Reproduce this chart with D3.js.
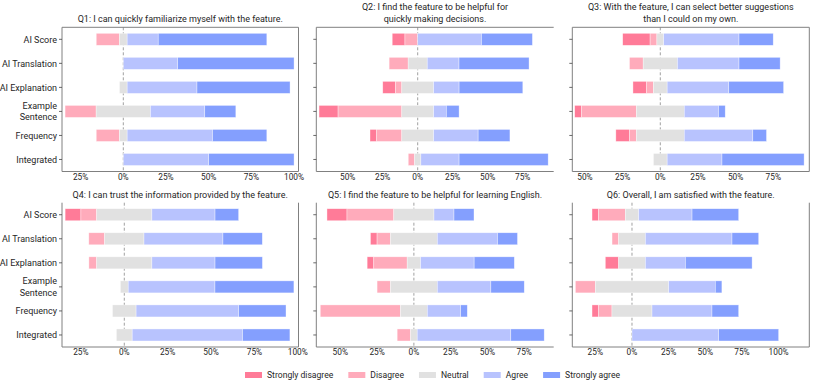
<!DOCTYPE html>
<html>
<head>
<meta charset="utf-8">
<script src="https://cdn.jsdelivr.net/npm/d3@7"></script>
<style>
  body { margin: 0; background: #fff; }
  svg { display: block; font-family: Roboto, "Liberation Sans", sans-serif; }
</style>
</head>
<body>
<svg id="chart" width="813" height="383"></svg>
<script>
// likert levels and their colours
const levels = ["Strongly disagree", "Disagree", "Neutral", "Agree", "Strongly agree"];
const levelColors = ["#ff7b98", "#ffabbb", "#e1e1e1", "#b8c3fe", "#849ffe"];

const categories = ["AI Score", "AI Translation", "AI Explanation", "Example Sentence", "Frequency", "Integrated"];

const titles = [
    ["Q1: I can quickly familiarize myself with the feature."],
    ["Q2: I find the feature to be helpful for", "quickly making decisions."],
    ["Q3: With the feature, I can select better suggestions", "than I could on my own."],
    ["Q4: I can trust the information provided by the feature."],
    ["Q5: I find the feature to be helpful for learning English."],
    ["Q6: Overall, I am satisfied with the feature."]
];

// percent of answers per category: [SD, D, N, A, SA]
const q1 = [
    [0, 13.6, 4.5, 18.2, 63.6],
    [0, 0, 0, 31.8, 68.2],
    [0, 0, 4.5, 40.9, 54.5],
    [0, 18.2, 31.8, 31.8, 18.2],
    [0, 13.6, 4.5, 50.0, 31.8],
    [0, 0, 0, 50.0, 50.0]
];
const q2 = [
    [9.1, 9.1, 0, 45.5, 36.4],
    [0, 13.6, 13.6, 22.7, 50.0],
    [9.1, 4.5, 22.7, 18.2, 45.5],
    [13.6, 45.5, 22.7, 9.1, 9.1],
    [4.5, 18.2, 22.7, 31.8, 22.7],
    [0, 4.5, 4.5, 27.3, 63.6]
];
const q3 = [
    [18.2, 4.5, 4.5, 50.0, 22.7],
    [0, 9.1, 22.7, 40.9, 27.3],
    [9.1, 4.5, 9.1, 40.9, 36.4],
    [4.5, 36.4, 31.8, 22.7, 4.5],
    [9.1, 4.5, 31.8, 45.5, 9.1],
    [0, 0, 9.1, 36.4, 54.5]
];
const q4 = [
    [9.1, 9.1, 31.8, 36.4, 13.6],
    [0, 9.1, 22.7, 45.5, 22.7],
    [0, 4.5, 31.8, 36.4, 27.3],
    [0, 0, 4.5, 50.0, 45.5],
    [0, 0, 13.6, 59.1, 27.3],
    [0, 0, 9.1, 63.6, 27.3]
];
const q5 = [
    [13.6, 31.8, 27.3, 13.6, 13.6],
    [4.5, 9.1, 31.8, 40.9, 13.6],
    [4.5, 22.7, 9.1, 36.4, 27.3],
    [0, 9.1, 31.8, 36.4, 22.7],
    [0, 54.5, 18.2, 22.7, 4.5],
    [0, 9.1, 4.5, 63.6, 22.7]
];
const q6 = [
    [4.5, 18.2, 9.1, 36.4, 31.8],
    [0, 4.5, 18.2, 59.1, 18.2],
    [9.1, 0, 18.2, 27.3, 45.5],
    [0, 13.6, 50.0, 31.8, 4.5],
    [4.5, 9.1, 27.3, 40.9, 18.2],
    [0, 0, 0, 59.1, 40.9]
];
const questions = [q1, q2, q3, q4, q5, q6];

const xTicks = [
    [-25, 0, 25, 50, 75, 100],
    [-50, -25, 0, 25, 50, 75],
    [-50, -25, 0, 25, 50, 75],
    [-25, 0, 25, 50, 75, 100],
    [-50, -25, 0, 25, 50, 75],
    [-25, 0, 25, 50, 75, 100]
];
const xLimits = [[-35.9, 102.6], [-72.4, 97.1], [-58.4, 98.9], [-35.9, 100.4], [-66.3, 95], [-40.7, 120.9]];

// panel frames
const colX = [[62, 298.5], [316.3, 553.7], [572.3, 809.3]];
const rowY = [[27.3, 171.5], [202.7, 347]];
const spines = [
    {top: 1, right: 1}, {top: 1, right: 0}, {top: 1, right: 1},
    {top: 0, right: 1}, {top: 0, right: 0}, {top: 0, right: 1}
];

const svg = d3.select('#chart');
const textColor = '#262626';
const spineColor = '#808080';

questions.forEach(function(data, qi) {
    var col = qi % 3, row = Math.floor(qi / 3);
    var x0 = colX[col][0], x1 = colX[col][1];
    var y0 = rowY[row][0], y1 = rowY[row][1];

    var x = d3.scaleLinear().domain(xLimits[qi]).range([x0, x1]);
    var y = d3.scaleBand().domain(categories).range([y0, y1])
        .paddingInner(0.5).paddingOuter(0.25);

    var g = svg.append('g').attr('class', 'panel');

    // zero line, behind the bars
    g.append('line')
        .attr('x1', x(0)).attr('x2', x(0))
        .attr('y1', y0).attr('y2', y1)
        .attr('stroke', '#a0a0a0')
        .attr('stroke-width', 1)
        .attr('stroke-dasharray', '3,2');

    // segments, neutral split round zero
    var segs = [];
    data.forEach(function(vals, ci) {
        var start = -(vals[0] + vals[1] + vals[2] / 2);
        vals.forEach(function(v, li) {
            if (v > 0) {
                segs.push({cat: categories[ci], level: li, from: start, to: start + v});
            }
            start += v;
        });
    });

    g.selectAll('rect.seg')
        .data(segs).enter()
        .append('rect')
        .attr('class', 'seg')
        .attr('x', function(d){ return x(d.from); })
        .attr('y', function(d){ return y(d.cat); })
        .attr('width', function(d){ return x(d.to) - x(d.from); })
        .attr('height', y.bandwidth())
        .attr('fill', function(d){ return levelColors[d.level]; })
        .attr('stroke', 'rgba(255,255,255,0.6)')
        .attr('stroke-width', 0.6);

    // spines
    var sp = spines[qi];
    var frame = [[x0, y0, x0, y1], [x0, y1, x1, y1]];
    if (sp.top) frame.push([x0, y0, x1, y0]);
    if (sp.right) frame.push([x1, y0, x1, y1]);
    g.selectAll('line.spine')
        .data(frame).enter()
        .append('line')
        .attr('class', 'spine')
        .attr('x1', function(d){ return d[0]; })
        .attr('y1', function(d){ return d[1]; })
        .attr('x2', function(d){ return d[2]; })
        .attr('y2', function(d){ return d[3]; })
        .attr('stroke', spineColor)
        .attr('stroke-width', 1);

    // y ticks
    g.selectAll('line.ytick')
        .data(categories).enter()
        .append('line')
        .attr('class', 'ytick')
        .attr('x1', x0 - 3).attr('x2', x0)
        .attr('y1', function(d){ return y(d) + y.bandwidth() / 2; })
        .attr('y2', function(d){ return y(d) + y.bandwidth() / 2; })
        .attr('stroke', '#444')
        .attr('stroke-width', 0.8);

    if (col === 0) {
        var lab = g.selectAll('text.ylab')
            .data(categories).enter()
            .append('text')
            .attr('class', 'ylab')
            .attr('text-anchor', 'end')
            .attr('font-size', 9)
            .attr('fill', textColor);
        lab.each(function(d) {
            var words = d === 'Example Sentence' ? ['Example', 'Sentence'] : [d];
            var cy = y(d) + y.bandwidth() / 2;
            var t = d3.select(this);
            words.forEach(function(w, i) {
                t.append('tspan')
                    .attr('x', x0 - 5)
                    .attr('y', cy + 3.2 + (i - (words.length - 1) / 2) * 11.5)
                    .text(w);
            });
        });
    }

    // x tick labels
    g.selectAll('text.xlab')
        .data(xTicks[qi]).enter()
        .append('text')
        .attr('class', 'xlab')
        .attr('x', function(d){ return x(d); })
        .attr('y', y1 + 8.3)
        .attr('text-anchor', 'middle')
        .attr('font-size', 8.3)
        .attr('fill', textColor)
        .text(function(d){ return Math.abs(d) + '%'; });

    // title, bottom aligned
    var lines = titles[qi];
    var base = row === 0 ? 21.7 : 197.6;
    lines.forEach(function(l, i) {
        g.append('text')
            .attr('x', (x0 + x1) / 2)
            .attr('y', base - (lines.length - 1 - i) * 11.7)
            .attr('text-anchor', 'middle')
            .attr('font-size', 9)
            .attr('fill', textColor)
            .text(l);
    });
});

// legend
var legend = svg.append('g').attr('class', 'legend');
var lx = 245;
levels.forEach(function(name, i) {
    legend.append('rect')
        .attr('x', lx).attr('y', 372)
        .attr('width', 17).attr('height', 6)
        .attr('fill', levelColors[i]);
    var t = legend.append('text')
        .attr('x', lx + 22).attr('y', 378.3)
        .attr('font-size', 8.6)
        .attr('fill', textColor)
        .text(name);
    lx = lx + 22 + t.node().getComputedTextLength() + 15;
});
</script>
</body>
</html>
